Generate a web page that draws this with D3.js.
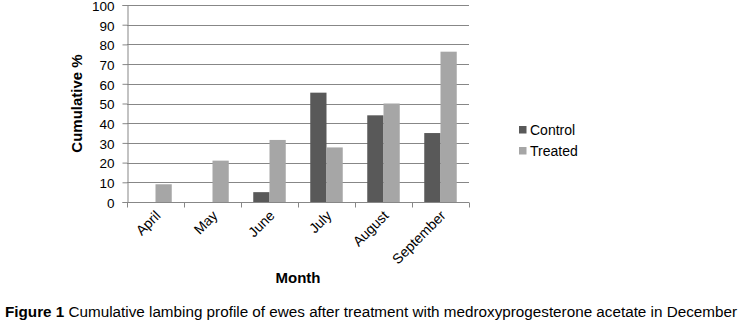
<!DOCTYPE html>
<html>
<head>
<meta charset="utf-8">
<script src="https://cdn.jsdelivr.net/npm/d3@7"></script>
<style>
  body { margin: 0; background: #fff; }
  svg { display: block; font-family: "Liberation Sans", Arial, sans-serif; }
</style>
</head>
<body>
<div class="BarChart"></div>
<script>
const months = ["April", "May", "June", "July", "August", "September"];
const control = [0, 0, 5, 55.5, 44, 35];
const treated = [9, 21, 31.5, 27.7, 50, 76.3];
const seriesNames = ["Control", "Treated"];
const seriesColors = ["#595959", "#a6a6a6"];
const yTicks = [0, 10, 20, 30, 40, 50, 60, 70, 80, 90, 100];

const width = 742, height = 331;
const plot = { left: 127, right: 469, top: 5, bottom: 202 };

const svg = d3.select(".BarChart")
  .append("svg")
  .attr("width", width)
  .attr("height", height);

const x0 = d3.scaleBand()
  .domain(months)
  .range([plot.left, plot.right])
  .padding(0);

const groupW = x0.bandwidth() * 0.57;
const x1 = d3.scaleBand()
  .domain(seriesNames)
  .range([(x0.bandwidth() - groupW) / 2, (x0.bandwidth() + groupW) / 2])
  .padding(0);

const y = d3.scaleLinear()
  .domain([0, 100])
  .range([plot.bottom, plot.top]);

// gridlines
svg.append("g")
  .selectAll("line")
  .data(yTicks.filter(d => d > 0))
  .join("line")
  .attr("x1", plot.left)
  .attr("x2", plot.right)
  .attr("y1", d => Math.round(y(d)) + 0.5)
  .attr("y2", d => Math.round(y(d)) + 0.5)
  .attr("stroke", "#878787")
  .attr("stroke-width", 1);

// bars
const rows = months.map((m, i) => ({ month: m, values: [control[i], treated[i]] }));
svg.append("g")
  .selectAll("g")
  .data(rows)
  .join("g")
  .attr("transform", d => `translate(${x0(d.month)},0)`)
  .selectAll("rect")
  .data(d => d.values.map((v, k) => ({ key: seriesNames[k], value: v, color: seriesColors[k] })))
  .join("rect")
  .attr("x", d => x1(d.key))
  .attr("width", x1.bandwidth())
  .attr("y", d => y(d.value))
  .attr("height", d => y(0) - y(d.value))
  .attr("fill", d => d.color);

// y axis
const yAxis = svg.append("g")
  .attr("transform", `translate(${plot.left + 0.5},0)`)
  .call(d3.axisLeft(y).tickValues(yTicks).tickSize(5).tickPadding(8));
yAxis.select(".domain").attr("stroke", "#878787");
yAxis.selectAll(".tick line").attr("stroke", "#878787");
yAxis.selectAll("text")
  .attr("y", 1)
  .style("font-size", "13.5px")
  .style("font-family", "'Liberation Sans', Arial, sans-serif")
  .attr("fill", "#000");

// x axis with ticks at category boundaries
const xg = svg.append("g")
  .attr("transform", `translate(0,${Math.round(plot.bottom) + 0.5})`);
xg.append("line")
  .attr("x1", plot.left)
  .attr("x2", plot.right)
  .attr("stroke", "#878787");
const bounds = months.map(m => x0(m)).concat([plot.right]);
xg.selectAll(".bt")
  .data(bounds)
  .join("line")
  .attr("class", "bt")
  .attr("x1", d => Math.round(d) + 0.5)
  .attr("x2", d => Math.round(d) + 0.5)
  .attr("y1", 0)
  .attr("y2", 5)
  .attr("stroke", "#878787");
xg.selectAll(".xl")
  .data(months)
  .join("text")
  .attr("class", "xl")
  .attr("text-anchor", "end")
  .attr("transform", d => `translate(${x0(d) + x0.bandwidth() / 2 + 6},${14}) rotate(-45)`)
  .style("font-size", "14px")
  .text(d => d);

// axis titles
svg.append("text")
  .attr("text-anchor", "middle")
  .attr("transform", `translate(82,${(plot.top + plot.bottom) / 2}) rotate(-90)`)
  .style("font-size", "15px")
  .style("font-weight", "bold")
  .text("Cumulative %");

svg.append("text")
  .attr("text-anchor", "middle")
  .attr("x", (plot.left + plot.right) / 2)
  .attr("y", 283)
  .style("font-size", "15px")
  .style("font-weight", "bold")
  .text("Month");

// legend
const legend = svg.append("g")
  .selectAll("g")
  .data(seriesNames)
  .join("g")
  .attr("transform", (d, i) => `translate(519,${126 + i * 21})`);
legend.append("rect")
  .attr("width", 7.5)
  .attr("height", 7.5)
  .attr("fill", (d, i) => seriesColors[i]);
legend.append("text")
  .attr("x", 11)
  .attr("y", 8.5)
  .style("font-size", "14px")
  .text(d => d);

// caption
const cap = svg.append("text")
  .attr("x", 5)
  .attr("y", 317)
  .attr("textLength", 732)
  .attr("lengthAdjust", "spacingAndGlyphs")
  .style("font-family", "'Liberation Sans Narrow', 'Liberation Sans', Arial, sans-serif")
  .style("font-size", "14px");
cap.append("tspan").style("font-weight", "bold").text("Figure 1");
cap.append("tspan").text(" Cumulative lambing profile of ewes after treatment with medroxyprogesterone acetate in December");
</script>
</body>
</html>
